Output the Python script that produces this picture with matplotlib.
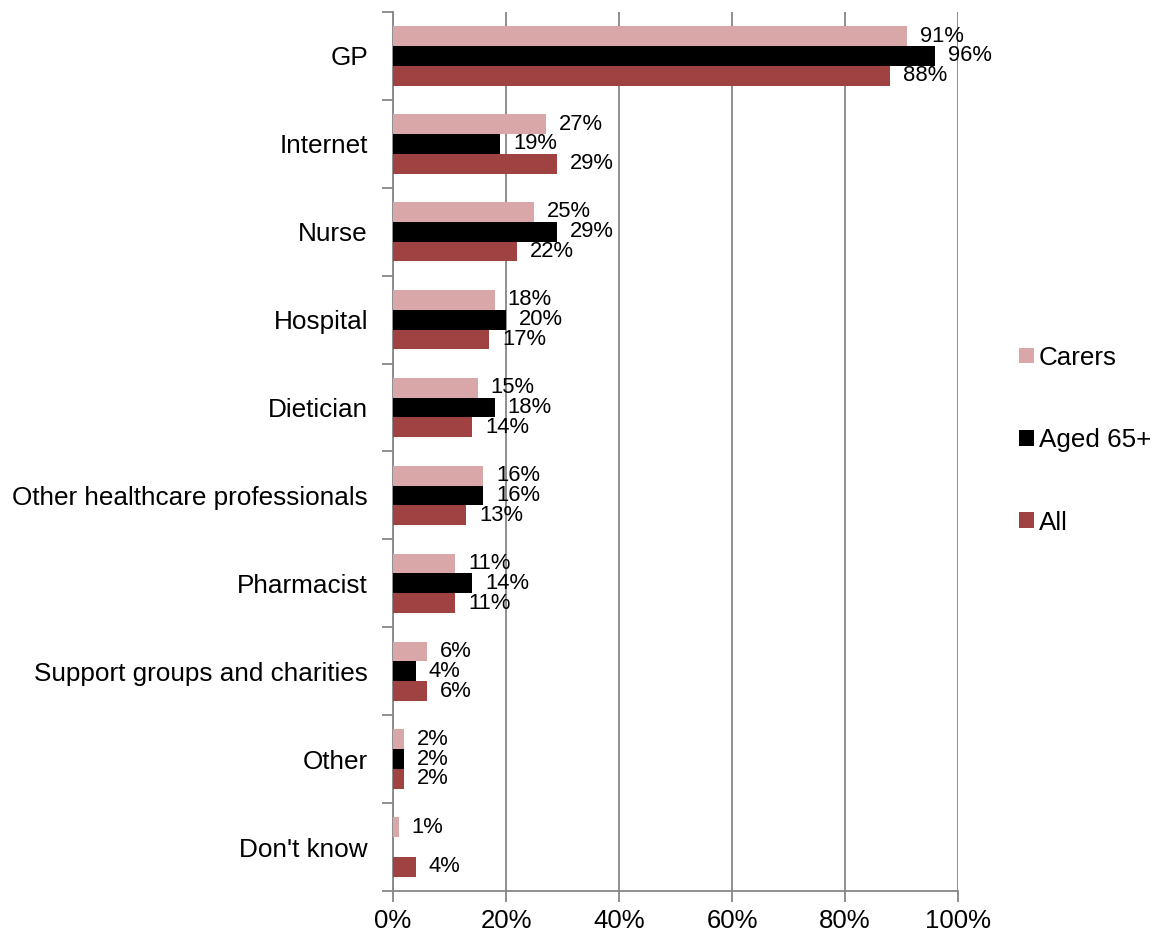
import matplotlib
matplotlib.use('Agg')
import matplotlib.pyplot as plt
import numpy as np
from matplotlib.ticker import PercentFormatter

plt.rcParams['font.family'] = ['Liberation Sans', 'DejaVu Sans']

categories = ['GP', 'Internet', 'Nurse', 'Hospital', 'Dietician',
              'Other healthcare professionals', 'Pharmacist',
              'Support groups and charities', 'Other', "Don't know"]
carers = [91, 27, 25, 18, 15, 16, 11, 6, 2, 1]
aged65 = [96, 19, 29, 20, 18, 16, 14, 4, 2, 0]
all_resp = [88, 29, 22, 17, 14, 13, 11, 6, 2, 4]

series = [('Carers', carers, '#D9A7A7'),
          ('Aged 65+', aged65, '#000000'),
          ('All', all_resp, '#A04242')]

fig = plt.figure(figsize=(11.64, 9.36), dpi=100)
ax = fig.add_axes([393/1164, 1 - 891/936, 565/1164, 879/936])

y = np.arange(len(categories))
h = 0.225
for i, (name, vals, col) in enumerate(series):
    pos = y + (i - 1) * h
    ax.barh(pos, vals, height=h, color=col, label=name, zorder=3)
    for p, v in zip(pos, vals):
        if name == 'Aged 65+' and v == 0:
            continue
        ax.text(v + 2.3, p, f'{v}%', va='center', ha='left', fontsize=15.8)

ax.set_xlim(0, 100)
ax.set_ylim(len(categories) - 0.5, -0.5)
ax.xaxis.set_major_formatter(PercentFormatter(decimals=0))
ax.set_xticks(range(0, 101, 20))
ax.grid(axis='x', color='#868686', linewidth=1.3, zorder=0)

ax.set_yticks(y)
ax.set_yticklabels(categories, fontsize=18.8)
ax.set_yticks(np.arange(-0.5, len(categories)), minor=True)
ax.tick_params(axis='y', which='major', length=0, pad=18)
ax.tick_params(axis='y', which='minor', length=8, color='#868686', width=1.3)
ax.tick_params(axis='x', length=8, color='#868686', width=1.3, labelsize=18.5, pad=5)

for s in ['top', 'right']:
    ax.spines[s].set_visible(False)
for s in ['left', 'bottom']:
    ax.spines[s].set_color('#868686')
    ax.spines[s].set_linewidth(1.3)

ax.legend(loc='center left', bbox_to_anchor=(1.067, 0.513), frameon=False,
          fontsize=18.7, handlelength=0.55, handleheight=0.55, handletextpad=0.2,
          labelspacing=2.25)

fig.savefig('out.png', dpi=100)
